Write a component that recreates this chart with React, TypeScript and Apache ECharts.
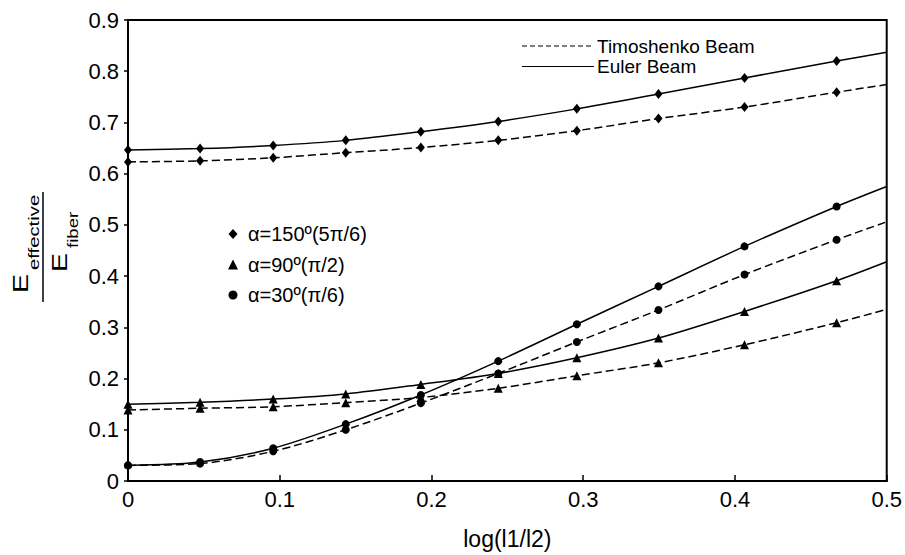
import React, { useEffect, useRef } from "react";
import * as echarts from "echarts";

// x positions: log(l1/l2)
const logRatio = [0, 0.0475, 0.0957, 0.1435, 0.193, 0.244, 0.2958, 0.3496, 0.4063, 0.467, 0.5];

// alpha = 150° (5π/6)
const euler150 = [0.646, 0.649, 0.655, 0.665, 0.682, 0.702, 0.7265, 0.7556, 0.7868, 0.82, 0.837];
const timo150 = [0.623, 0.625, 0.631, 0.641, 0.651, 0.665, 0.684, 0.7076, 0.73, 0.759, 0.774];
// alpha = 90° (π/2)
const euler90 = [0.15, 0.1536, 0.16, 0.17, 0.1886, 0.21, 0.2405, 0.279, 0.331, 0.391, 0.428];
const timo90 = [0.1386, 0.142, 0.145, 0.153, 0.163, 0.181, 0.2055, 0.2307, 0.266, 0.309, 0.335];
// alpha = 30° (π/6)
const euler30 = [0.0305, 0.037, 0.064, 0.111, 0.168, 0.234, 0.306, 0.38, 0.458, 0.536, 0.575];
const timo30 = [0.0305, 0.034, 0.058, 0.1, 0.152, 0.21, 0.2715, 0.334, 0.403, 0.471, 0.506];

const beamLegend = ["Timoshenko Beam", "Euler Beam"];
const alphaLegend = ["α=150º(5π/6)", "α=90º(π/2)", "α=30º(π/6)"];
const xTitle = "log(l1/l2)";

const FONT = "'Liberation Sans', Arial, Helvetica, sans-serif";

function mkSeries(name: string, values: number[], symbol: string, size: any, dashed: boolean) {
  const last = logRatio.length - 1;
  return {
    type: "line",
    name,
    smooth: 0.3,
    symbol,
    symbolSize: size,
    showSymbol: true,
    lineStyle: { color: "#000", width: 1.5, type: dashed ? [8, 4] : "solid" },
    itemStyle: { color: "#000" },
    data: logRatio.map((x, i) =>
      i === last ? { value: [x, values[i]], symbol: "none" } : [x, values[i]]
    ),
  };
}

export default function App() {
  const ref = useRef<HTMLDivElement>(null);
  useEffect(() => {
    if (!ref.current) return;
    const chart = echarts.init(ref.current, undefined, { renderer: "svg" });
    const legendY = [234, 265, 295];
    const option: any = {
      animation: false,
      backgroundColor: "#fff",
      textStyle: { fontFamily: FONT, color: "#000" },
      grid: {
        left: 128,
        right: 18,
        top: 20,
        bottom: 72,
        show: true,
        borderColor: "#000",
        borderWidth: 2,
        backgroundColor: "transparent",
      },
      xAxis: {
        type: "value",
        min: 0,
        max: 0.5,
        interval: 0.1,
        name: xTitle,
        nameLocation: "middle",
        nameGap: 46,
        nameTextStyle: { fontSize: 23, color: "#000", fontFamily: FONT },
        axisLine: { show: true, lineStyle: { color: "#000", width: 2 } },
        axisTick: { show: true, inside: true, length: 6, lineStyle: { color: "#000", width: 1.5 } },
        axisLabel: { fontSize: 22, color: "#000", margin: 7, fontFamily: FONT },
        splitLine: { show: false },
      },
      yAxis: {
        type: "value",
        min: 0,
        max: 0.9,
        interval: 0.1,
        axisLine: { show: true, lineStyle: { color: "#000", width: 2 } },
        axisTick: { show: true, inside: false, length: 4, lineStyle: { color: "#000", width: 1.5 } },
        axisLabel: { fontSize: 22, color: "#000", margin: 9, fontFamily: FONT },
        splitLine: { show: false },
      },
      series: [
        mkSeries("Euler 150", euler150, "diamond", [8, 10], false),
        mkSeries("Timoshenko 150", timo150, "diamond", [8, 10], true),
        mkSeries("Euler 90", euler90, "triangle", 9, false),
        mkSeries("Timoshenko 90", timo90, "triangle", 9, true),
        mkSeries("Euler 30", euler30, "circle", 8, false),
        mkSeries("Timoshenko 30", timo30, "circle", 8, true),
      ],
      graphic: [
        // beam-type legend
        {
          type: "line",
          shape: { x1: 522, y1: 46, x2: 594, y2: 46 },
          style: { stroke: "#000", lineWidth: 1, lineDash: [5, 3] },
        },
        {
          type: "text",
          x: 597,
          y: 46,
          style: { text: beamLegend[0], font: `19px ${FONT}`, fill: "#000", align: "left", verticalAlign: "middle" },
        },
        {
          type: "line",
          shape: { x1: 522, y1: 66.5, x2: 594, y2: 66.5 },
          style: { stroke: "#000", lineWidth: 1.2 },
        },
        {
          type: "text",
          x: 597,
          y: 66.5,
          style: { text: beamLegend[1], font: `19px ${FONT}`, fill: "#000", align: "left", verticalAlign: "middle" },
        },
        // alpha legend markers
        {
          type: "polygon",
          shape: { points: [[233, legendY[0] - 5], [237.5, legendY[0]], [233, legendY[0] + 5], [228.5, legendY[0]]] },
          style: { fill: "#000" },
        },
        {
          type: "polygon",
          shape: { points: [[233, legendY[1] - 5.5], [238, legendY[1] + 4.5], [228, legendY[1] + 4.5]] },
          style: { fill: "#000" },
        },
        {
          type: "circle",
          shape: { cx: 233, cy: legendY[2], r: 4.5 },
          style: { fill: "#000" },
        },
        ...alphaLegend.map((t, i) => ({
          type: "text",
          x: 248,
          y: legendY[i],
          style: { text: t, font: `20px ${FONT}`, fill: "#000", align: "left", verticalAlign: "middle" },
        })),
        // y-axis title: E_effective / E_fiber, rotated
        {
          type: "group",
          x: 43,
          y: 247,
          rotation: Math.PI / 2,
          children: [
            {
              type: "line",
              shape: { x1: -55, y1: 0, x2: 55, y2: 0 },
              style: { stroke: "#000", lineWidth: 1.5 },
            },
            {
              type: "text",
              x: -46,
              y: -23,
              scaleX: 1.3,
              style: { text: "E", font: `22px ${FONT}`, fill: "#000", align: "left", verticalAlign: "middle" },
            },
            {
              type: "text",
              x: -23,
              y: -9,
              scaleX: 1.45,
              style: { text: "effective", font: `14px ${FONT}`, fill: "#000", align: "left", verticalAlign: "middle" },
            },
            {
              type: "text",
              x: -25,
              y: 16.5,
              scaleX: 1.3,
              style: { text: "E", font: `22px ${FONT}`, fill: "#000", align: "left", verticalAlign: "middle" },
            },
            {
              type: "text",
              x: -1,
              y: 30,
              scaleX: 1.33,
              style: { text: "fiber", font: `14px ${FONT}`, fill: "#000", align: "left", verticalAlign: "middle" },
            },
          ],
        },
      ],
    };
    chart.setOption(option);
    return () => chart.dispose();
  }, []);
  return (
    <div
      ref={ref}
      style={{ position: "fixed", left: 0, top: 0, width: 905, height: 555, background: "#fff" }}
    />
  );
}
